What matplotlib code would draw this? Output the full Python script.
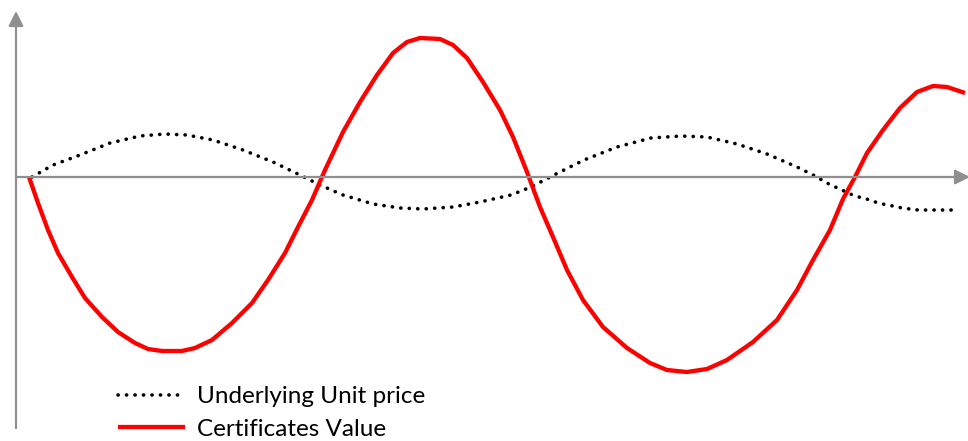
import matplotlib
matplotlib.use('Agg')
from matplotlib import pyplot as plt

# values (x = time, y = value relative to the x axis)
price_x = [16, 37, 64, 94, 124, 149, 171, 197, 227, 257, 284, 304, 327, 357, 384, 407,
           437, 464, 495, 515, 538, 568, 601, 635, 665, 691, 721, 751, 781, 801, 809,
           817, 824, 832, 839, 847, 854, 862, 871, 877, 886, 894, 902, 911, 919, 927,
           934, 941]
price_y = [0, 12, 22, 34, 41, 43, 42, 37, 27, 15, 2, -8, -18, -27, -31, -32,
           -30, -25, -18, -10, 2, 17, 30, 39, 41, 40, 33, 23, 10, 0, -5,
           -9, -12, -16, -19, -21, -23, -26, -28, -29, -31, -32, -33, -33, -33, -33,
           -33, -33]

cert_x = [13, 22, 32, 42, 56, 69, 86, 102, 119, 132, 146, 166, 179, 196, 216, 236,
          252, 269, 282, 296, 309, 327, 344, 361, 377, 391, 404, 424, 437, 451, 467,
          484, 497, 511, 524, 537, 551, 567, 587, 611, 634, 651, 671, 691, 711, 737,
          761, 781, 797, 814, 827, 839, 851, 867, 884, 901, 917, 931, 949]
cert_y = [0, -26, -53, -76, -100, -121, -140, -155, -166, -172, -174, -174, -171, -163, -146, -126,
          -103, -76, -50, -23, 7, 45, 75, 102, 124, 135, 139, 138, 132, 119, 95,
          67, 40, 5, -30, -60, -93, -123, -150, -171, -186, -193, -195, -192, -183, -165,
          -143, -113, -83, -53, -22, 0, 24, 47, 69, 85, 91, 90, 84]

labels = ['Underlying Unit price', 'Certificates Value']

plt.rcParams['font.family'] = ['Lato', 'DejaVu Sans']

fig = plt.figure(figsize=(9.68, 4.41), dpi=100)
ax = fig.add_axes([0, 0, 1, 1])
ax.set_xlim(-16, 952)
ax.set_ylim(-264, 177)
ax.axis('off')

grey = '#8f8f8f'
# axes with arrow heads
ax.annotate('', xy=(0, 166), xytext=(0, -251), annotation_clip=False,
            arrowprops=dict(arrowstyle='-|>,head_length=0.9,head_width=0.45',
                            color=grey, lw=1.6, shrinkA=0, shrinkB=0))
ax.annotate('', xy=(954, 0), xytext=(0, 0), annotation_clip=False,
            arrowprops=dict(arrowstyle='-|>,head_length=0.9,head_width=0.45',
                            color=grey, lw=1.6, shrinkA=0, shrinkB=0))

ax.plot(price_x, price_y, color='black', lw=2.6, linestyle=(0, (0.05, 2.3)),
        dash_capstyle='round', label=labels[0])
ax.plot(cert_x, cert_y, color='#ff0000', lw=3.1, solid_joinstyle='round',
        solid_capstyle='butt', label=labels[1])

ax.legend(loc='upper left', bbox_to_anchor=(118 / 968, 1 - 386 / 441),
          frameon=False, fontsize=17.5, handlelength=2.75, handletextpad=0.5,
          labelspacing=0.48, borderpad=0, borderaxespad=0)

fig.savefig('out.png', dpi=100)
